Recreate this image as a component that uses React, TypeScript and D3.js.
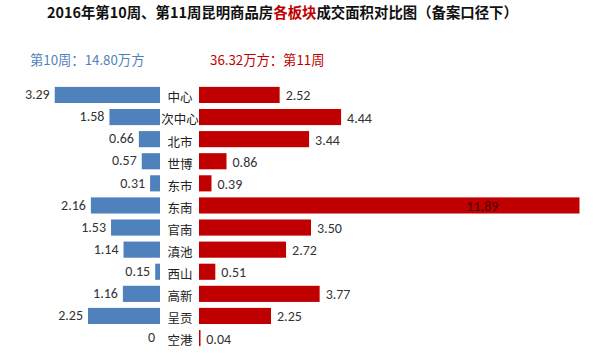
import * as d3 from 'd3';
import React from 'react';

const categories = ['中心', '次中心', '北市', '世博', '东市', '东南', '官南', '滇池', '西山', '高新', '呈贡', '空港'];
const week10 = [3.29, 1.58, 0.66, 0.57, 0.31, 2.16, 1.53, 1.14, 0.15, 1.16, 2.25, 0];
const week11 = [2.52, 4.44, 3.44, 0.86, 0.39, 11.89, 3.5, 2.72, 0.51, 3.77, 2.25, 0.04];
const legend10 = '第10周：14.80万方';
const legend11 = '36.32万方：第11周';

const width = 600;
const height = 353;
const blue = '#4F81BD';
const red = '#C00000';
const labelFont = 'Calibri, Carlito, "Liberation Sans", "Noto Sans", sans-serif';
const cjkFont = '"Noto Sans CJK SC", sans-serif';

const App: React.FC = () => {
  const y = d3.scaleBand().domain(categories).range([84, 349]).paddingInner(0.27).paddingOuter(0.13);
  const unit = 32;
  const xLeft = d3.scaleLinear().domain([0, 12]).range([160, 160 - 12 * unit]);
  const xRight = d3.scaleLinear().domain([0, 12]).range([199, 199 + 12 * unit]);
  const bh = y.bandwidth();

  return (
    <svg width={width} height={height} style={{ position: 'absolute', left: 0, top: 0, background: '#fff' }}>
      <text x={47} y={18} fontFamily={cjkFont} fontSize={14.4} fontWeight="bold" fill="#111">
        2016年第10周、第11周昆明商品房<tspan fill={red}>各板块</tspan>成交面积对比图（备案口径下）
      </text>
      <text x={30} y={65} fontFamily={cjkFont} fontSize={13.3} fill={blue}>{legend10}</text>
      <text x={210} y={65} fontFamily={cjkFont} fontSize={13.3} fill={red}>{legend11}</text>

      {categories.map((c, i) => {
        const top = y(c) ?? 0;
        const cy = top + bh / 2;
        const v10 = week10[i];
        const v11 = week11[i];
        const inside = v11 > 10;
        return (
          <g key={c}>
            <rect x={xLeft(v10)} y={top} width={xLeft(0) - xLeft(v10)} height={bh} fill={blue} />
            <rect x={xRight(0)} y={top} width={Math.max(xRight(v11) - xRight(0), 1.5)} height={bh} fill={red} />
            <text x={xLeft(v10) - 5} y={cy} dy="0.3em" textAnchor="end" fontFamily={labelFont} fontSize={14} fill="#333">
              {v10 === 0 ? '0' : v10.toFixed(2)}
            </text>
            <text
              x={inside ? xRight(v11) - 97 : xRight(v11) + 6}
              y={cy + 1}
              dy="0.32em"
              textAnchor={inside ? 'middle' : 'start'}
              fontFamily={labelFont}
              fontSize={14}
              fill={inside ? '#4a0000' : '#333'}
            >
              {v11.toFixed(2)}
            </text>
            <text x={180} y={cy + 3} dy="0.35em" textAnchor="middle" fontFamily={cjkFont} fontSize={12.5} fill="#222">
              {c}
            </text>
          </g>
        );
      })}
    </svg>
  );
};

export default App;
